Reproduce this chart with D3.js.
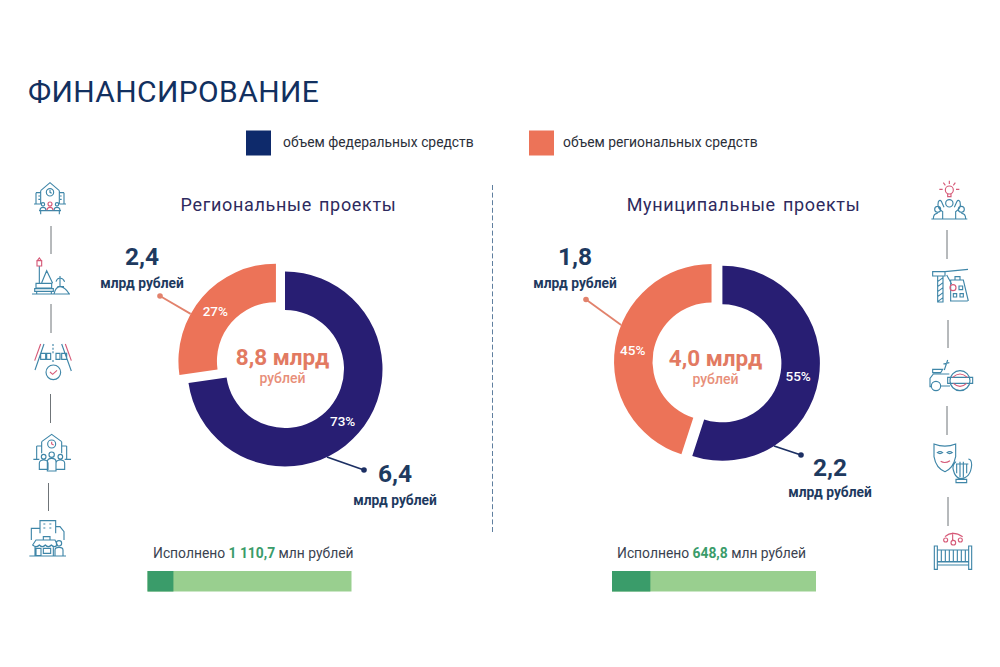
<!DOCTYPE html>
<html>
<head>
<meta charset="utf-8">
<script src="https://cdn.jsdelivr.net/npm/d3@7"></script>
<style>
    html, body { margin: 0; padding: 0; background: #fff; }
    svg { display: block; }
    text { font-family: Roboto, sans-serif; }
</style>
</head>
<body>
<div class="chart"></div>
<script>
// Data
var projectNames = ["Региональные проекты", "Муниципальные проекты"];
var sourceNames = ["объем федеральных средств", "объем региональных средств"];
var federalValues = [6.4, 2.2];
var regionalValues = [2.4, 1.8];
var federalLabels = ["6,4", "2,2"];
var regionalLabels = ["2,4", "1,8"];
var federalPercents = ["73%", "55%"];
var regionalPercents = ["27%", "45%"];
var totalLabels = ["8,8 млрд", "4,0 млрд"];
var doneLabels = ["1 110,7", "648,8"];
var doneShares = [12.7, 18.8];

var svgWidth = 1000;
var svgHeight = 667;

var colors = {
    federal: "#281e73",
    regional: "#ec7358",
    legendFederal: "#0e2a6b",
    value: "#1e3a5f",
    total: "#e27a62",
    totalSub: "#e88f7a",
    done: "#3a9c6a",
    rest: "#99cf8f"
};

// layout of the two panels
var panels = [
    { cx: 285, cy: 369, explode: 12, titleX: 288.5, titleY: 211, centerX: 282.5, centerY: 365,
      regionalDot: [160, 296], regionalAngle: 299, federalDot: [364, 470], federalAngle: 154.5,
      regionalText: [142, 265], federalText: [395, 482], federalSubY: 505,
      barX: 147.5, doneX: 153 },
    { cx: 722.4, cy: 363.3, explode: 11, titleX: 743.5, titleY: 211, centerX: 715.5, centerY: 366,
      regionalDot: [586, 299.5], regionalAngle: 292, federalDot: [801, 455], federalAngle: 148,
      regionalText: [575, 265], federalText: [830, 476], federalSubY: 497,
      barX: 612, doneX: 617 }
];

var outerR = 97.5;
var innerR = 59;
var barWidth = 204;

var svg = d3
    .select(".chart")
    .append("svg")
    .attr("width", svgWidth)
    .attr("height", svgHeight);

// title
svg.append("text")
    .attr("x", 28)
    .attr("y", 102)
    .attr("font-size", 30)
    .attr("letter-spacing", 0.38)
    .attr("fill", "#12305f")
    .text("ФИНАНСИРОВАНИЕ");

// legend
var legendX = [246, 529];
var legendColors = [colors.legendFederal, colors.regional];
sourceNames.forEach(function (name, i) {
    svg.append("rect")
        .attr("x", legendX[i])
        .attr("y", 130.5)
        .attr("width", 25)
        .attr("height", 25)
        .attr("fill", legendColors[i]);
    svg.append("text")
        .attr("x", legendX[i] + (i == 0 ? 37 : 34))
        .attr("y", 147)
        .attr("font-size", 13.85)
        .attr("fill", "#2b2f3a")
        .text(name);
});

// dashed divider
svg.append("line")
    .attr("x1", 492.5)
    .attr("x2", 492.5)
    .attr("y1", 185)
    .attr("y2", 534)
    .attr("stroke", "#5f7f9f")
    .attr("stroke-width", 1)
    .attr("stroke-dasharray", "5 2.6");

var pie = d3.pie().sort(null);
var arc = d3.arc().innerRadius(innerR).outerRadius(outerR);

// point on the outer edge, angle in degrees clockwise from the top
function edgePoint(cx, cy, angle) {
    var a = angle * Math.PI / 180;
    return [cx + outerR * Math.sin(a), cy - outerR * Math.cos(a)];
}

function drawLeader(from, to, color) {
    svg.append("line")
        .attr("x1", from[0])
        .attr("y1", from[1])
        .attr("x2", to[0])
        .attr("y2", to[1])
        .attr("stroke", color)
        .attr("stroke-width", 1.8);
    svg.append("circle")
        .attr("cx", to[0])
        .attr("cy", to[1])
        .attr("r", 2.8)
        .attr("fill", color);
}

function drawValue(x, y, subY, label) {
    svg.append("text")
        .attr("x", x)
        .attr("y", y)
        .attr("text-anchor", "middle")
        .attr("font-size", 24.5)
        .attr("font-weight", 700)
        .attr("fill", colors.value)
        .text(label);
    svg.append("text")
        .attr("x", x)
        .attr("y", subY)
        .attr("text-anchor", "middle")
        .attr("font-size", 13.8)
        .attr("font-weight", 700)
        .attr("fill", colors.value)
        .text("млрд рублей");
}

panels.forEach(function (p, i) {
    svg.append("text")
        .attr("x", p.titleX)
        .attr("y", p.titleY)
        .attr("text-anchor", "middle")
        .attr("font-size", 18)
        .attr("letter-spacing", 0.68)
        .attr("word-spacing", 2)
        .attr("fill", "#2e2a5e")
        .text(projectNames[i]);

    var slices = pie([federalValues[i], regionalValues[i]]);

    // the regional slice is pulled out along its middle angle
    var mid = (slices[1].startAngle + slices[1].endAngle) / 2;
    var rx = p.cx + p.explode * Math.sin(mid);
    var ry = p.cy - p.explode * Math.cos(mid);

    // leaders go under the slices
    drawLeader(edgePoint(rx, ry, p.regionalAngle), p.regionalDot, "#e2826c");
    drawLeader(edgePoint(p.cx, p.cy, p.federalAngle), p.federalDot, "#1c2f63");

    var groups = [[p.cx, p.cy], [rx, ry]];
    var sliceColors = [colors.federal, colors.regional];
    var percents = [federalPercents[i], regionalPercents[i]];

    slices.forEach(function (d, j) {
        var g = svg.append("g")
            .attr("transform", `translate(${groups[j][0]}, ${groups[j][1]})`);
        g.append("path")
            .attr("d", arc(d))
            .attr("fill", sliceColors[j]);
        var c = arc.centroid(d);
        g.append("text")
            .attr("x", c[0] - 1.5)
            .attr("y", c[1] + 1)
            .attr("dy", "0.35em")
            .attr("text-anchor", "middle")
            .attr("font-size", 13.5)
            .attr("font-weight", 500)
            .attr("fill", "#fff")
            .text(percents[j]);
    });

    // center text
    svg.append("text")
        .attr("x", p.centerX)
        .attr("y", p.centerY)
        .attr("text-anchor", "middle")
        .attr("font-size", 22.5)
        .attr("font-weight", 700)
        .attr("fill", colors.total)
        .text(totalLabels[i]);
    svg.append("text")
        .attr("x", p.centerX)
        .attr("y", p.centerY + 18)
        .attr("text-anchor", "middle")
        .attr("font-size", 14)
        .attr("font-weight", 500)
        .attr("fill", colors.totalSub)
        .text("рублей");

    drawValue(p.regionalText[0], p.regionalText[1], p.regionalText[1] + 23, regionalLabels[i]);
    drawValue(p.federalText[0], p.federalText[1], p.federalSubY, federalLabels[i]);

    // progress bar
    var barScale = d3.scaleLinear()
        .domain([0, 100])
        .range([p.barX, p.barX + barWidth]);

    svg.append("rect")
        .attr("x", barScale(0))
        .attr("y", 571)
        .attr("width", barScale(100) - barScale(0))
        .attr("height", 20.5)
        .attr("fill", colors.rest);
    svg.append("rect")
        .attr("x", barScale(0))
        .attr("y", 571)
        .attr("width", barScale(doneShares[i]) - barScale(0))
        .attr("height", 20.5)
        .attr("fill", colors.done);

    var doneText = svg.append("text")
        .attr("x", p.doneX)
        .attr("y", 558)
        .attr("font-size", 13.85)
        .attr("fill", "#3a4250");
    doneText.append("tspan").text("Исполнено ");
    doneText.append("tspan")
        .attr("font-weight", 700)
        .attr("fill", colors.done)
        .text(doneLabels[i]);
    doneText.append("tspan").text(" млн рублей");
});

// short grey separators between the icons
var separators = [
    [51, 226, 254], [51, 304, 333], [50.5, 394, 423], [48.5, 483, 511],
    [947, 230, 259], [948, 320, 348], [947, 406, 435], [948, 497, 526]
];
separators.forEach(function (s) {
    svg.append("line")
        .attr("x1", s[0])
        .attr("x2", s[0])
        .attr("y1", s[1])
        .attr("y2", s[2])
        .attr("stroke", "#6f7478")
        .attr("stroke-width", 1);
});

function circ(cx, cy, r) {
    return `M${cx - r} ${cy}a${r} ${r} 0 1 0 ${2 * r} 0a${r} ${r} 0 1 0 ${-2 * r} 0`;
}

// decorative line icons, traced at 3x and scaled down
var icons = [
    { at: [0, 170],
      line: "M122 62L150 38L178 62M122 62V102M178 62V102M108 68H122M178 68H192M108 68V102M192 68V102M102 102H122M178 102H198" +
        "M115 78h5M115 88h5M180 78h5M180 88h5M150 60V67L155 70" + circ(150, 67, 11) + circ(129, 103, 5) + circ(171, 103, 5) +
        "M120 121a9 9 0 0 1 18 0M162 121a9 9 0 0 1 18 0M117 122H183M122 122V133M178 122V133",
      pink: circ(150, 102, 6) + "M141 121a9 9 0 0 1 18 0" },
    { at: [0, 170],
      line: "M118 288V340M125 338L140 302L158 340M108 340H155V354H108ZM104 356H160V364H104ZM110 364V371M154 364V371" +
        "M180 318V348M168 335Q172 323 180 325Q188 323 194 335M172 350H192M162 372Q167 350 180 350Q194 350 208 372M96 372H210",
      pink: "M112 272L118 264L124 272ZM111 272H125V288H111Z" },
    { at: [0, 170],
      line: "M132 522L105 600M185 522L214 603M122 550h15v18h-15zM140 550h12v18h-12zM168 550h12v18h-12zM185 550h15v18h-15z" +
        "M159 522V528M159 533V539M159 544V550M159 570V576" + circ(160, 607, 22),
      pink: "M122 522L104 572M196 522L214 572M150 606L158 613L171 601" },
    { at: [0, 390],
      line: "M125 155L155 133L185 155M125 155V190M185 155V190M110 168H125M185 168H200M110 168V208M200 168V208M100 208H118M194 208H213" +
        circ(131, 200, 7) + circ(155, 194, 8) + circ(181, 200, 7) +
        "M118 238V220Q118 210 131 210Q144 210 144 220V238ZM142 243V215Q142 205 155 205Q168 205 168 215V243ZM168 238V220Q168 210 181 210Q194 210 194 220V238Z" +
        circ(155, 162, 12),
      pink: "M155 155V162L161 165" },
    { at: [0, 390],
      line: "M120 430V392H167V430M130 402h6M148 402h6M130 414h6M148 414h6M94 450V415H120M167 410H180L192 425V450" +
        "M98 465L108 450H165L172 465Q163 475 154 465Q145 475 136 465Q127 475 118 465Q109 475 98 465Z" +
        "M130 440h20v10h-20zM108 475h15v22h-15zM130 475h22v15h-22zM105 470V498M160 470V498" + circ(177, 460, 8) +
        "M165 498V480Q165 472 177 472Q189 472 189 480V498M88 498H198" },
    { at: [900, 170],
      line: circ(148, 100, 11) + "M115 95Q110 115 128 125V147M180 95Q185 115 167 125V147M115 95Q120 88 124 94L132 112M180 95Q175 88 171 94L163 112" +
        circ(113, 118, 9) + circ(184, 118, 9) + "M100 147Q100 130 113 130M197 147Q197 130 184 130M94 147H202",
      pink: circ(148, 60, 12) + "M143 72v8h10v-8M148 32v10M130 38l6 8M166 38l-6 8M118 58h10M168 58h10" },
    { at: [900, 170],
      line: "M113 318h16v78h-16zM113 335l16-12M113 350l16-12M113 365l16-12M113 380l16-12M113 395l16-12M98 305H135V318H98ZM135 305L204 298M140 315L155 342" +
        "M152 393V330H190L205 393M150 393H203M177 348h11v11h-11zM160 371h10v10h-10zM180 371h10v10h-10zM165 330V320H180V330",
      pink: circ(159, 353, 9) },
    { at: [900, 170],
      line: circ(180, 632, 30) + circ(108, 648, 14) + "M143 622H218V640H143ZM94 650H90V625L100 612H148M122 648H150M98 598H128L122 608H98ZM133 600L143 570M130 582L148 578",
      pink: "M158 622Q180 602 202 622M160 640Q180 658 200 640" },
    { at: [900, 390],
      line: "M102 162Q135 175 167 162V200Q160 235 135 245Q108 235 102 200ZM112 188Q120 182 128 188Q120 194 112 188ZM141 188Q149 182 157 188Q149 194 141 188Z" +
        "M168 215Q156 225 160 240Q165 262 180 266Q212 265 215 225Q215 208 205 207M170 222V250M180 215V262M190 215V262M200 222V250M168 222H205M168 268H200V278H168Z",
      pink: "M122 214Q135 222 150 212" },
    { at: [900, 390],
      line: "M103 468h9v70h-9zM206 468h9v70h-9zM112 480H206M112 515H206M124 480V515M136 480V515M148 480V515M160 480V515M172 480V515M184 480V515M196 480V515M112 516h94v9h-94z",
      pink: "M135 440Q158 420 188 440M158 428V450" + circ(137, 450, 6) + circ(160, 458, 7) + circ(181, 450, 6) }
];

icons.forEach(function (icon) {
    var g = svg.append("g")
        .attr("transform", `translate(${icon.at[0]}, ${icon.at[1]}) scale(${1 / 3})`)
        .attr("fill", "none")
        .attr("stroke-width", 3.4);
    g.append("path")
        .attr("d", icon.line)
        .attr("stroke", "#3f86a8");
    if (icon.pink) {
        g.append("path")
            .attr("d", icon.pink)
            .attr("stroke", "#d65a78");
    }
});
</script>
</body>
</html>
